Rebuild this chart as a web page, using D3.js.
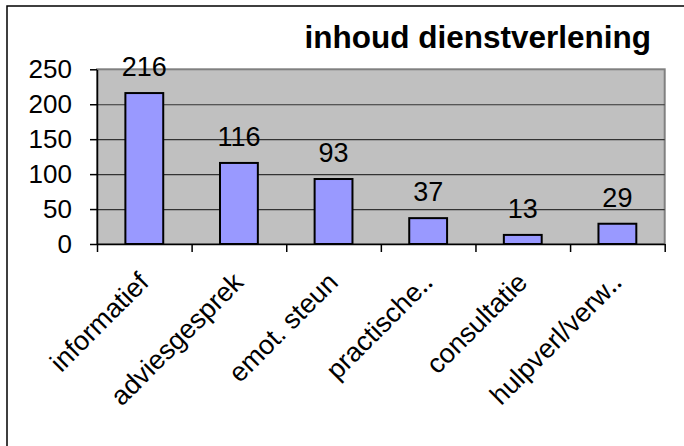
<!DOCTYPE html>
<html>
<head>
<meta charset="utf-8">
<script src="https://cdnjs.cloudflare.com/ajax/libs/d3/7.8.5/d3.min.js"></script>
<style>
  body { margin: 0; background: #fff; }
  svg { display: block; font-family: 'Liberation Sans', Arial, sans-serif; }
</style>
</head>
<body>
<div class="holder"></div>
<script>
const categories = ['informatief', 'adviesgesprek', 'emot. steun', 'practische\u2025', 'consultatie', 'hulpverl/verw\u2025'];
const values = [216, 116, 93, 37, 13, 29];
const yTicks = [0, 50, 100, 150, 200, 250];
const title = 'inhoud dienstverlening';

const width = 684;
const height = 446;
const plotLeft = 97;
const plotRight = 664.7;
const plotTop = 69.3;
const plotBottom = 244;

const svg = d3
  .select('.holder')
  .append('svg')
  .attr('width', width)
  .attr('height', height);

// chart border (cropped on right and bottom)
svg
  .append('rect')
  .attr('x', 7)
  .attr('y', 6)
  .attr('width', 700)
  .attr('height', 460)
  .attr('fill', '#fff')
  .attr('stroke', '#000')
  .attr('stroke-width', 1.5);

svg
  .append('text')
  .attr('x', 651)
  .attr('y', 48)
  .attr('text-anchor', 'end')
  .style('font-size', '31.5px')
  .style('font-weight', 'bold')
  .text(title);

const yScale = d3.scaleLinear()
  .domain([0, 250])
  .range([plotBottom, plotTop]);

const xScale = d3.scaleBand()
  .domain(categories)
  .range([plotLeft, plotRight])
  .paddingInner(0.6)
  .paddingOuter(0.3);

// plot area
svg
  .append('rect')
  .attr('x', plotLeft)
  .attr('y', plotTop)
  .attr('width', plotRight - plotLeft)
  .attr('height', plotBottom - plotTop)
  .attr('fill', '#c0c0c0')
  .attr('stroke', '#808080')
  .attr('stroke-width', 2);

// gridlines
svg
  .append('g')
  .attr('transform', `translate(${plotLeft}, 0)`)
  .call(d3.axisLeft(yScale).tickValues(yTicks.slice(1, -1)).tickSize(-(plotRight - plotLeft)).tickFormat(''))
  .call(g => g.select('.domain').remove())
  .selectAll('line')
  .attr('stroke', '#333')
  .attr('stroke-width', 1.2);

// bars
svg
  .selectAll('.bar')
  .data(values)
  .enter()
  .append('rect')
  .attr('class', 'bar')
  .attr('x', (d, i) => xScale(categories[i]))
  .attr('y', d => yScale(d))
  .attr('width', xScale.bandwidth())
  .attr('height', d => plotBottom - yScale(d))
  .attr('fill', '#9999ff')
  .attr('stroke', '#000')
  .attr('stroke-width', 2);

// value labels
svg
  .selectAll('.val')
  .data(values)
  .enter()
  .append('text')
  .attr('class', 'val')
  .attr('x', (d, i) => xScale(categories[i]) + xScale.bandwidth() / 2)
  .attr('y', d => yScale(d) - 17)
  .attr('text-anchor', 'middle')
  .style('font-size', '27px')
  .text(d => d);

// y axis
const yAxis = svg
  .append('g')
  .attr('transform', `translate(${plotLeft}, 0)`)
  .call(d3.axisLeft(yScale).tickValues(yTicks).tickSize(7).tickPadding(18).tickSizeOuter(0));

yAxis.selectAll('text')
  .style('font-size', '26px')
  .style('font-family', 'Liberation Sans, Arial, sans-serif')
  .attr('fill', '#000');
yAxis.selectAll('line').attr('stroke', '#000').attr('stroke-width', 1.5);
yAxis.select('.domain').attr('stroke', '#000').attr('stroke-width', 1.5);

// x axis with ticks between categories
const edgeScale = d3.scaleLinear()
  .domain([0, categories.length])
  .range([plotLeft, plotRight]);

const xAxis = svg
  .append('g')
  .attr('transform', `translate(0, ${plotBottom})`)
  .call(d3.axisBottom(edgeScale).tickValues(d3.range(categories.length + 1)).tickSize(8).tickFormat('').tickSizeOuter(0));

xAxis.selectAll('line').attr('stroke', '#000').attr('stroke-width', 1.5);
xAxis.select('.domain').attr('stroke', '#000').attr('stroke-width', 1.5);

// category labels
svg
  .selectAll('.cat')
  .data(categories)
  .enter()
  .append('text')
  .attr('class', 'cat')
  .attr('transform', d => `translate(${xScale(d) + xScale.bandwidth() / 2 + 6}, 284) rotate(-45)`)
  .attr('text-anchor', 'end')
  .style('font-size', '27px')
  .text(d => d);
</script>
</body>
</html>
